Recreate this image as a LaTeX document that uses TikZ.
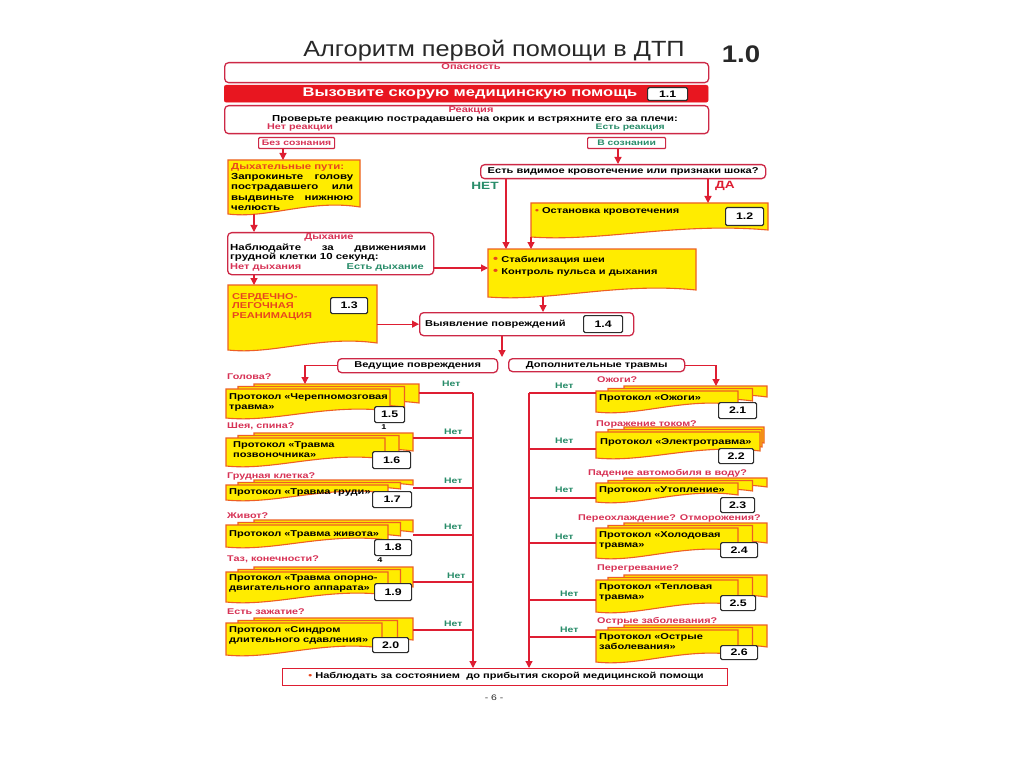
\documentclass[tikz,border=0pt]{standalone}
\usepackage{fontspec}
\setmainfont{Liberation Sans}[FakeStretch=1.3]
\newfontfamily\titlefont{Liberation Sans}[FakeStretch=1.15]
\usetikzlibrary{arrows.meta,calc}

\definecolor{boxred}{RGB}{205,40,70}
\definecolor{linered}{RGB}{222,30,50}
\definecolor{barred}{RGB}{232,22,32}
\definecolor{labred}{RGB}{215,50,85}
\definecolor{orred}{RGB}{232,70,30}
\definecolor{grn}{RGB}{40,140,105}
\definecolor{yel}{RGB}{255,236,0}
\definecolor{yelborder}{RGB}{238,95,35}
\definecolor{numdark}{RGB}{45,45,45}
\definecolor{titlegray}{RGB}{40,40,40}

\newcommand\fsz[1]{\fontsize{#1}{#1}\selectfont}
% box node from pixel corners
\newcommand\bx[7][]{\node[#1, anchor=north west, minimum width={(#5)-(#3)}, minimum height={(#6)-(#4)}] (#2) at (#3,#4) {#7};}
% document shape (wavy bottom): x1,y1,x2,y2(left bottom)
\newcommand\docshape[5][]{%
  \pgfmathsetmacro\dwA{(#4)-(#2)}%
  \draw[#1] ({#2},{#3}) -- ({#4},{#3}) -- ({#4},{(#5)-7})
    .. controls ({(#2)+0.62*\dwA},{(#5)-15}) and ({(#2)+0.3*\dwA},{(#5)+5}) .. ({#2},{#5}) -- cycle;}
% stacked protocol box: name, x1, y1, front right, bottom-left, back right
\newcommand\stack[6]{%
  \pgfmathsetmacro\midR{((#4)+(#6))/2}%
  \docshape[ydoc]{(#2)+28}{(#3)-5}{#6}{(#5)-8}%
  \docshape[ydoc]{(#2)+12}{(#3)-2.5}{\midR}{(#5)-4}%
  \docshape[ydoc]{#2}{#3}{#4}{#5}%
  \node[area, anchor=north west, minimum width={(#6)-(#2)}, minimum height={(#5)-(#3)+5}] (#1) at (#2,{(#3)-5}) {};}

\begin{document}
\begin{tikzpicture}[x=1pt,y=-1pt,
  rbox/.style={draw=boxred, line width=1.3pt, rounded corners=4pt, fill=white, inner sep=0pt},
  sbox/.style={draw=boxred, line width=1.2pt, rounded corners=1pt, fill=white, inner sep=0pt},
  nbox/.style={draw=numdark, line width=1.2pt, fill=white, rounded corners=1.5pt, inner sep=0pt, font=\bfseries\fsz{9.5}, text=black},
  conn/.style={draw=linered, line width=1.2pt},
  arr/.style={conn, -{Triangle[length=7pt,width=7pt]}},
  ydoc/.style={fill=yel, draw=yelborder, line width=1.1pt},
  area/.style={inner sep=0pt, draw=none},
  blk/.style={font=\bfseries\fontsize{8.5}{10.5}\selectfont, text=black, inner sep=0pt},
  redl/.style={font=\bfseries\fsz{8.3}, text=labred, inner sep=0pt},
  grnl/.style={font=\bfseries\fsz{8}, text=grn, inner sep=0pt},
]
\useasboundingbox (0,0) rectangle (1024,767);
\fill[white] (0,0) rectangle (1024,767);

% ---------- title ----------
\node[font=\titlefont\fsz{22}, text=titlegray, anchor=base, inner sep=0pt] (title) at (494,57) {Алгоритм первой помощи в ДТП};
\node[font=\titlefont\bfseries\fsz{24}, text=titlegray, anchor=base, inner sep=0pt] (ver) at (741,63) {1.0};

% ---------- top boxes ----------
\bx[rbox]{op}{224}{62}{708}{82}{}
\node[redl, font=\bfseries\fsz{8.5}] at (471,67) {Опасность};

\bx[fill=barred, draw=barred, rounded corners=2pt, inner sep=0pt]{bar}{224}{85}{708}{102}{}
\node[font=\bfseries\fsz{12.7}, text=white, inner sep=0pt] at (470,93) {Вызовите скорую медицинскую помощь};
\bx[nbox]{n11}{647}{87}{687}{100}{1.1}

\bx[rbox]{rea}{224}{105}{708}{133}{}
\node[redl, font=\bfseries\fsz{8.5}] at (471,110) {Реакция};
\node[blk, font=\bfseries\fsz{8.7}] at (475,119) {Проверьте реакцию пострадавшего на окрик и встряхните его за плечи:};
\node[redl, anchor=west] at (267,128) {Нет реакции};
\node[grnl, anchor=east] at (665,128) {Есть реакция};

\bx[sbox]{bez}{258}{137}{334}{148}{\bfseries\fsz{8}\color{labred}Без сознания}
\bx[sbox]{vsoz}{587}{137}{665}{148}{\bfseries\fsz{8}\color{grn}В сознании}

% ---------- left column ----------
\docshape[ydoc]{228}{160}{360}{214}
\node[area, anchor=north west, minimum width=132, minimum height=54] (dp) at (228,160) {};
\node[anchor=north west, inner sep=0pt, align=left, font=\bfseries\fontsize{8.8}{10.3}\selectfont] at (231,163)
  {\textcolor{orred}{Дыхательные пути:}\\
   \makebox[122pt][s]{Запрокиньте голову}\\
   \makebox[122pt][s]{пострадавшего или}\\
   \makebox[122pt][s]{выдвиньте нижнюю}\\
   челюсть};

\bx[rbox]{dyh}{227}{232}{433}{274}{}
\node[redl, font=\bfseries\fsz{8.5}] at (329,237) {Дыхание};
\node[blk, anchor=west, font=\bfseries\fsz{8.8}] at (230,248) {\makebox[196pt][s]{Наблюдайте за движениями}};
\node[blk, anchor=west, font=\bfseries\fsz{8.8}] at (230,257) {грудной клетки 10 секунд:};
\node[redl, anchor=west, font=\bfseries\fsz{8.5}] at (230,267) {Нет дыхания};
\node[grnl, anchor=east, font=\bfseries\fsz{8.5}] at (424,267) {Есть дыхание};

\docshape[ydoc]{228}{285}{377}{350}
\node[area, anchor=north west, minimum width=149, minimum height=65] (slr) at (228,285) {};
\node[anchor=north west, inner sep=0pt, align=left, text=orred, font=\bfseries\fontsize{8.5}{9.8}\selectfont] at (232,293)
  {СЕРДЕЧНО-\\ЛЕГОЧНАЯ\\РЕАНИМАЦИЯ};
\bx[nbox]{n13}{330}{297}{367}{313}{1.3}

% ---------- right column ----------
\bx[rbox]{q}{480}{164}{765}{178}{\bfseries\fsz{8.5}Есть видимое кровотечение или признаки шока?}
\node[font=\bfseries\fsz{10.5}, text=grn, inner sep=0pt] at (485,186) {НЕТ};
\node[font=\bfseries\fsz{10.5}, text=linered, inner sep=0pt] at (725,186) {ДА};

\docshape[ydoc]{531}{203}{768}{237}
\node[area, anchor=north west, minimum width=237, minimum height=34] (ost) at (531,203) {};
\node[blk, anchor=west] at (535,211) {\textcolor{orred}{•} Остановка кровотечения};
\bx[nbox]{n12}{725}{207}{763}{225}{1.2}

\docshape[ydoc]{488}{249}{696}{297}
\node[area, anchor=north west, minimum width=208, minimum height=48] (stab) at (488,249) {};
\node[blk, anchor=west] at (493,260) {\textcolor{orred}{\fsz{11}•} Стабилизация шеи};
\node[blk, anchor=west] at (493,272) {\textcolor{orred}{\fsz{11}•} Контроль пульса и дыхания};

\bx[rbox]{vyy}{419}{312}{633}{335}{}
\node[blk, anchor=west] at (425,324) {Выявление повреждений};
\bx[nbox]{n14}{583}{315}{622}{332}{1.4}

\bx[rbox]{ved}{337}{358}{497}{372}{\bfseries\fsz{8.5}Ведущие повреждения}
\bx[rbox]{dop}{508}{358}{684}{371}{\bfseries\fsz{8.5}Дополнительные травмы}

% ---------- bottom ----------
\bx[draw=linered, line width=1.2pt, fill=white, inner sep=0pt]{bot}{282}{668}{727}{685}{}
\node[blk] at (506,676) {\textcolor{orred}{•} Наблюдать за состоянием\ \ до прибытия скорой медицинской помощи};
\node[font=\fsz{8}, text=titlegray, inner sep=0pt] (pg) at (494,698) {- 6 -};

% ---------- left protocols ----------
\node[redl, anchor=west] at (227,377) {Голова?};
\stack{p15}{226}{389}{390}{418}{419}
\node[blk, anchor=north west, align=left] at (229,393) {Протокол «Черепномозговая\\травма»};
\bx[nbox]{n15}{374}{406}{404}{422}{1.5}
\node[blk, font=\bfseries\fsz{7}] at (384,427) {1};

\node[redl, anchor=west] at (227,426) {Шея, спина?};
\stack{p16}{226}{438}{385}{466}{413}
\node[blk, anchor=north west, align=left] at (233,441) {Протокол «Травма\\позвоночника»};
\bx[nbox]{n16}{372}{451}{410}{468}{1.6}

\node[redl, anchor=west] at (227,476) {Грудная клетка?};
\stack{p17}{226}{485}{388}{500}{413}
\node[blk, anchor=west] at (229,492) {Протокол «Травма груди»};
\bx[nbox]{n17}{372}{491}{411}{507}{1.7}

\node[redl, anchor=west] at (227,516) {Живот?};
\stack{p18}{226}{525}{388}{547}{413}
\node[blk, anchor=west] at (229,534) {Протокол «Травма живота»};
\bx[nbox]{n18}{374}{539}{411}{555}{1.8}
\node[blk, font=\bfseries\fsz{7}] at (380,560) {4};

\node[redl, anchor=west] at (227,559) {Таз, конечности?};
\stack{p19}{226}{572}{388}{602}{413}
\node[blk, anchor=north west, align=left] at (229,574) {Протокол «Травма опорно-\\двигательного аппарата»};
\bx[nbox]{n19}{374}{583}{411}{600}{1.9}

\node[redl, anchor=west] at (227,612) {Есть зажатие?};
\stack{p20}{226}{623}{382}{655}{413}
\node[blk, anchor=north west, align=left] at (229,626) {Протокол «Синдром\\длительного сдавления»};
\bx[nbox]{n20}{372}{637}{408}{652}{2.0}

% ---------- right protocols ----------
\node[redl, anchor=west] at (597,380) {Ожоги?};
\stack{p21}{596}{391}{738}{412}{767}
\node[blk, anchor=west] at (599,398) {Протокол «Ожоги»};
\bx[nbox]{n21}{718}{402}{756}{418}{2.1}

\node[redl, anchor=west] at (596,424) {Поражение током?};
\stack{p22}{596}{432}{760}{458}{764}
\node[blk, anchor=west] at (600,442) {Протокол «Электротравма»};
\bx[nbox]{n22}{718}{448}{753}{463}{2.2}

\node[redl, anchor=west] at (588,473) {Падение автомобиля в воду?};
\stack{p23}{596}{483}{738}{502}{767}
\node[blk, anchor=west] at (599,490) {Протокол «Утопление»};
\bx[nbox]{n23}{720}{497}{754}{512}{2.3}

\node[redl, anchor=west] at (578,518) {Переохлаждение? Отморожения?};
\stack{p24}{596}{528}{738}{558}{767}
\node[blk, anchor=north west, align=left] at (599,531) {Протокол «Холодовая\\травма»};
\bx[nbox]{n24}{720}{542}{757}{557}{2.4}

\node[redl, anchor=west] at (597,568) {Перегревание?};
\stack{p25}{596}{580}{738}{612}{767}
\node[blk, anchor=north west, align=left] at (599,583) {Протокол «Тепловая\\травма»};
\bx[nbox]{n25}{720}{595}{755}{610}{2.5}

\node[redl, anchor=west] at (597,621) {Острые заболевания?};
\stack{p26}{596}{630}{738}{662}{767}
\node[blk, anchor=north west, align=left] at (599,633) {Протокол «Острые\\заболевания»};
\bx[nbox]{n26}{720}{645}{757}{659}{2.6}

% ---------- connector coordinates ----------
\coordinate (c1) at (283,0);
\coordinate (c2) at (618,0);
\coordinate (c3) at (254,0);
\coordinate (c4) at (0,268);
\coordinate (c6) at (506,0);
\coordinate (c7) at (708,0);
\coordinate (c8) at (543,0);
\coordinate (split) at (502,357);
\coordinate (a15) at (305,384);
\coordinate (a21) at (716,386);

% ---------- connectors (top part) ----------
\draw[arr] (bez.south -| c1) -- (dp.north -| c1);
\draw[arr] (vsoz.south -| c2) -- (q.north -| c2);
\draw[arr] (dp.south -| c3) -- (dyh.north -| c3);
\draw[arr] (dyh.south -| c3) -- (slr.north -| c3);
\draw[arr] (dyh.east |- c4) -- (stab.west |- c4);
\draw[arr] (slr.east |- vyy.west) -- (vyy.west);
\draw[arr] (q.south -| c6) -- (stab.north -| c6);
\draw[arr] (q.south -| c7) -- (ost.north -| c7);
\draw[arr] (ost.south west) -- (stab.north -| ost.south west);
\draw[arr] (stab.south -| c8) -- (vyy.north -| c8);
\draw[arr] (vyy.south -| split) -- (split);
\draw[arr] (ved.west) -| (a15);
\draw[arr] (dop.east) -| (a21);

% ---------- trunks ----------
\coordinate (tl) at (473,393);
\coordinate (tr) at (529,393);
\draw[arr] (tl) -- (tl |- bot.north);
\draw[arr] (tr) -- (tr |- bot.north);

% left "Нет" branches
\coordinate (l16) at (473,438);
\coordinate (l17) at (473,488);
\coordinate (l18) at (473,535);
\coordinate (l19) at (473,582);
\coordinate (l20) at (473,630);
\draw[conn] (p15.east |- tl) -- (tl);
\draw[conn] (p16.east |- l16) -- (l16);
\draw[conn] (p17.east |- l17) -- (l17);
\draw[conn] (p18.east |- l18) -- (l18);
\draw[conn] (p19.east |- l19) -- (l19);
\draw[conn] (p20.east |- l20) -- (l20);
\node[grnl, anchor=west] at (442,384) {Нет};
\node[grnl, anchor=west] at (444,432) {Нет};
\node[grnl, anchor=west] at (444,481) {Нет};
\node[grnl, anchor=west] at (444,527) {Нет};
\node[grnl, anchor=west] at (447,576) {Нет};
\node[grnl, anchor=west] at (444,624) {Нет};

% right "Нет" branches
\coordinate (r22) at (529,449);
\coordinate (r23) at (529,498);
\coordinate (r24) at (529,543);
\coordinate (r25) at (529,600);
\coordinate (r26) at (529,637);
\draw[conn] (tr) -- (p21.west |- tr);
\draw[conn] (r22) -- (p22.west |- r22);
\draw[conn] (r23) -- (p23.west |- r23);
\draw[conn] (r24) -- (p24.west |- r24);
\draw[conn] (r25) -- (p25.west |- r25);
\draw[conn] (r26) -- (p26.west |- r26);
\node[grnl, anchor=west] at (555,386) {Нет};
\node[grnl, anchor=west] at (555,441) {Нет};
\node[grnl, anchor=west] at (555,490) {Нет};
\node[grnl, anchor=west] at (555,537) {Нет};
\node[grnl, anchor=west] at (560,594) {Нет};
\node[grnl, anchor=west] at (560,630) {Нет};
\end{tikzpicture}
\end{document}
